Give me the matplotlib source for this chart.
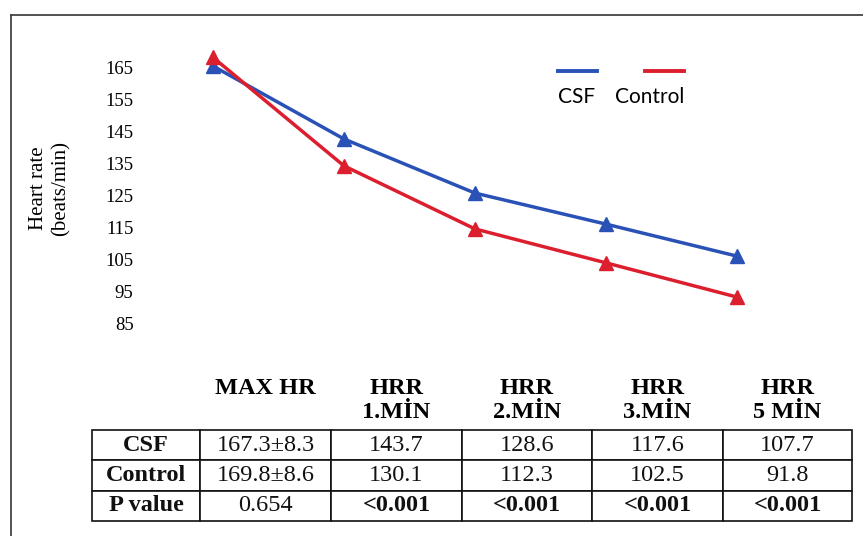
import matplotlib
matplotlib.use("Agg")
import matplotlib.pyplot as plt
from matplotlib.lines import Line2D

# ---- data ----
stages = ["MAX HR", "HRR\n1.MİN", "HRR\n2.MİN", "HRR\n3.MİN", "HRR\n5 MİN"]
csf_plot = [165.3, 142.5, 125.6, 115.9, 105.9]
control_plot = [168.0, 134.1, 114.4, 103.8, 93.1]
yticks = [165, 155, 145, 135, 125, 115, 105, 95, 85]
row_labels = ["CSF", "Control", "P value"]
csf_table = ["167.3±8.3", "143.7", "128.6", "117.6", "107.7"]
control_table = ["169.8±8.6", "130.1", "112.3", "102.5", "91.8"]
p_values = ["0.654", "<0.001", "<0.001", "<0.001", "<0.001"]

W, H = 863, 536
fig = plt.figure(figsize=(W / 100, H / 100), dpi=100)
serif = ["Liberation Serif", "DejaVu Serif"]

def fx(px):
    return px / W

def fy(py):
    return 1 - py / H

# outer frame (top and left)
fig.add_artist(Line2D([fx(11), fx(863)], [fy(15), fy(15)], color="#444444", lw=1.3))
fig.add_artist(Line2D([fx(11), fx(11)], [fy(15), fy(536)], color="#444444", lw=1.3))

# ---- line chart ----
ax = fig.add_axes([fx(147.5), fy(340), (802.5 - 147.5) / W, 300 / H])
blue = "#2a52b6"
red = "#dc1f2e"
x = list(range(len(stages)))
ax.plot(x, csf_plot, color=blue, lw=2.5, marker="^", ms=10.5, zorder=3)
ax.plot(x, control_plot, color=red, lw=2.5, marker="^", ms=10.5, zorder=3)
ax.set_xlim(-0.5, len(stages) - 0.5)
ax.set_ylim(79.69, 173.44)
ax.set_yticks(yticks)
ax.set_yticklabels([str(v) for v in yticks], family=serif, fontsize=13.5)
ax.tick_params(axis="y", length=0, pad=10)
ax.set_xticks([])
for s in ax.spines.values():
    s.set_visible(False)
ax.patch.set_alpha(0)

fig.text(fx(50), fy(188), "Heart rate\n(beats/min)", rotation=90, ha="center",
         va="center", family=serif, fontsize=15, linespacing=1.2)

# legend
fig.add_artist(Line2D([fx(558), fx(597)], [fy(71), fy(71)], color=blue, lw=2.8))
fig.add_artist(Line2D([fx(645), fx(684)], [fy(71), fy(71)], color=red, lw=2.8))
fig.text(fx(577), fy(97), "CSF", ha="center", va="center", family=["Lato", "DejaVu Sans"],
         fontsize=15)
fig.text(fx(650), fy(97), "Control", ha="center", va="center",
         family=["Lato", "DejaVu Sans"], fontsize=15)

# ---- table ----
col_edges = [92, 200, 331, 462, 592, 723, 852]
col_centers = [(col_edges[i] + col_edges[i + 1]) / 2 for i in range(len(col_edges) - 1)]
for i, st in enumerate(stages):
    lines = st.split("\n")
    for j, ln in enumerate(lines):
        fig.text(fx(col_centers[i + 1]), fy(388 + 25 * j), ln, ha="center", va="center",
                 family=serif, fontsize=17.5, fontweight="bold")

tax = fig.add_axes([fx(92), fy(521), (852 - 92) / W, (521 - 430) / H])
tax.axis("off")
cell_text = [[row_labels[0]] + csf_table,
             [row_labels[1]] + control_table,
             [row_labels[2]] + p_values]
total = col_edges[-1] - col_edges[0]
widths = [(col_edges[i + 1] - col_edges[i]) / total for i in range(len(col_edges) - 1)]
tbl = tax.table(cellText=cell_text, colWidths=widths, cellLoc="center", bbox=[0, 0, 1, 1])
tbl.auto_set_font_size(False)
for (r, c), cell in tbl.get_celld().items():
    cell.set_linewidth(1.2)
    cell.set_edgecolor("#111111")
    t = cell.get_text()
    t.set_fontfamily(serif)
    t.set_fontsize(17.5)
    bold = c == 0 or (r == 2 and c >= 2)
    t.set_fontweight("bold" if bold else "normal")
    t.set_color("#111111")

fig.savefig("out.png", dpi=100)
